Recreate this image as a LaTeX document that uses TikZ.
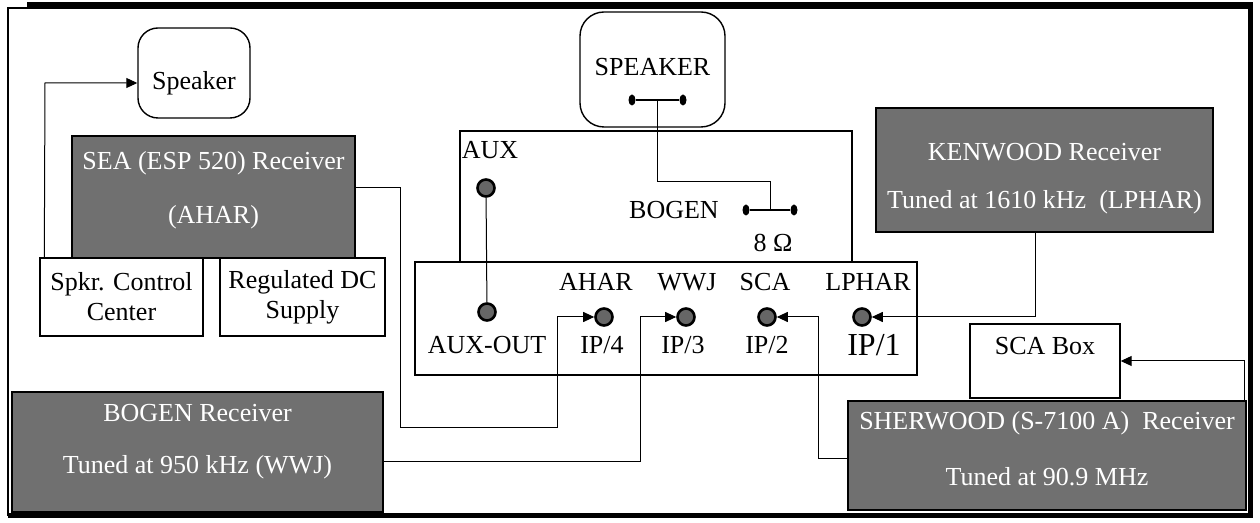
\documentclass[tikz,border=0pt]{standalone}
\usepackage{fontspec}
\setmainfont{Liberation Serif}
\usetikzlibrary{arrows.meta,positioning,shapes.geometric}
\definecolor{rxgray}{RGB}{112,112,112}

\tikzset{
  rxbox/.style={draw=black, fill=rxgray, line width=0.8pt},
  rxtext/.style={text=white, inner sep=1pt},
  unitbox/.style={draw=black, line width=0.7pt, fill=white},
  spkbox/.style={draw=black, line width=0.7pt},
  jack/.style={circle, draw=black, line width=1.3pt, fill=black!60, minimum size=8.5pt, inner sep=0pt},
  term/.style={ellipse, fill=black, minimum width=3.5pt, minimum height=5.5pt, inner sep=0pt},
  lbl/.style={inner sep=1pt},
  wire/.style={line width=0.5pt},
  feed/.style={wire, -{Triangle[length=5.5pt,width=5pt]}}
}

\begin{document}
\begin{tikzpicture}[x=0.5pt, y=-0.5pt, font=\fontsize{13}{15}\selectfont]
  \useasboundingbox (0,0) rectangle (1260,523);
  % outer frame
  \draw[line width=0.6pt] (8,8) rectangle (1250,515);
  \draw[line width=2.5pt] (27,5) -- (1250,5) -- (1250,516) -- (8,516);

  % left speaker and SEA receiver
  \node[spkbox, rounded corners=10pt, minimum width=56pt, minimum height=45pt] (spkL) at (194,73) {};
  \node[lbl] (spkLtxt) at (194,83) {Speaker};
  \node[rxbox, minimum width=141.5pt, minimum height=61pt] (sea) at (213.5,197) {};
  \node[rxtext] (seaA) at (213.5,163) {SEA (ESP 520) Receiver};
  \node[rxtext] (seaB) at (213.5,217) {(AHAR)};
  \node[unitbox, minimum width=81.5pt, minimum height=39pt, align=center] (ctl) at (121.5,297)
    {Spkr. Control\\Center};
  \node[unitbox, minimum width=82.5pt, minimum height=39pt, align=center] (dc) at (302.5,297)
    {Regulated DC\\Supply};

  % BOGEN receiver
  \node[rxbox, minimum width=185.5pt, minimum height=60pt] (bogrx) at (197.5,452) {};
  \node[rxtext] (bogA) at (197.5,413) {BOGEN Receiver};
  \node[rxtext] (bogB) at (197.5,467) {Tuned at 950 kHz (WWJ)};

  % amplifier: upper and lower panel
  \node[unitbox, minimum width=196pt, minimum height=65.5pt] (amp) at (656,196.5) {};
  \node[unitbox, minimum width=251pt, minimum height=56.5pt] (panel) at (666,318.5) {};
  \node[spkbox, rounded corners=12pt, minimum width=72.5pt, minimum height=57.5pt, fill=white] (spkT) at (652.5,69.5) {};
  \node[lbl] (spkTtxt) at (652.5,67) {SPEAKER};

  \node[lbl] (auxlbl) at (490,150) {AUX};
  \node[lbl] (boglbl) at (674,210) {BOGEN};
  \node[lbl] (ohm) at (773,243) {8 Ω};

  % jacks
  \node[jack] (aux)  at (486,188) {};
  \node[jack] (auxo) at (487,312) {};
  \node[jack] (jA) at (604,317) {};
  \node[jack] (jW) at (686,317) {};
  \node[jack] (jS) at (767,317) {};
  \node[jack] (jL) at (862,317) {};
  \node[lbl] (lA) at (596,282) {AHAR};
  \node[lbl] (lW) at (687,282) {WWJ};
  \node[lbl] (lS) at (765,282) {SCA};
  \node[lbl] (lL) at (868,282) {LPHAR};
  \node[lbl] (oX) at (487,345) {AUX-OUT};
  \node[lbl] (oA) at (602,345) {IP/4};
  \node[lbl] (oW) at (683,345) {IP/3};
  \node[lbl] (oS) at (767,345) {IP/2};
  \node[lbl, font=\fontsize{16}{18}\selectfont] (oL) at (874,345) {IP/1};

  % speaker terminals
  \node[term] (st1) at (632,100) {};
  \node[term] (st2) at (683,100) {};
  \node[term] (bt1) at (746,210) {};
  \node[term] (bt2) at (794,210) {};
  \draw[wire, line width=0.8pt] (st1) -- (st2);
  \draw[wire, line width=0.8pt] (bt1) -- (bt2);
  \coordinate (stm) at (657,100);
  \coordinate (btm) at (770,210);
  \draw[wire] (stm) -- (657,182) -| (btm);
  \draw[wire] (aux) -- (auxo);

  % right side receivers
  \node[rxbox, minimum width=168.5pt, minimum height=62pt] (kenw) at (1044.5,170) {};
  \node[rxtext] (kenA) at (1044.5,152) {KENWOOD Receiver};
  \node[rxtext] (kenB) at (1044.5,202) {Tuned at 1610 kHz\ \ (LPHAR)};
  \node[unitbox, minimum width=75pt, minimum height=37pt] (sca) at (1045,361) {};
  \node[lbl] (scatxt) at (1045,346) {SCA Box};
  \node[rxbox, minimum width=199pt, minimum height=54.5pt] (sherw) at (1047,455.5) {};
  \node[rxtext] (shA) at (1047,423) {SHERWOOD (S-7100 A)\ \ Receiver};
  \node[rxtext] (shB) at (1047,477) {Tuned at 90.9 MHz};

  % signal wires
  \draw[feed] (ctl.north west) ++(5,0) -- (45,83) -- (spkL.west |- spkLtxt);
  \draw[feed] (sea.east) ++(0,-9) -- (400,188) -- (400,428) -- (557,428) |- (jA.west);
  \draw[feed] (bogrx.east) ++(0,10) -- (640,462) |- (jW.west);
  \draw[feed] (sherw.west) ++(0,3.5) -- (818,459) |- (jS.east);
  \draw[feed] (kenw.south) ++(-9.5,0) |- (jL.east);
  \draw[feed] (sherw.north east) ++(-2,0) |- (sca.east);
\end{tikzpicture}
\end{document}
